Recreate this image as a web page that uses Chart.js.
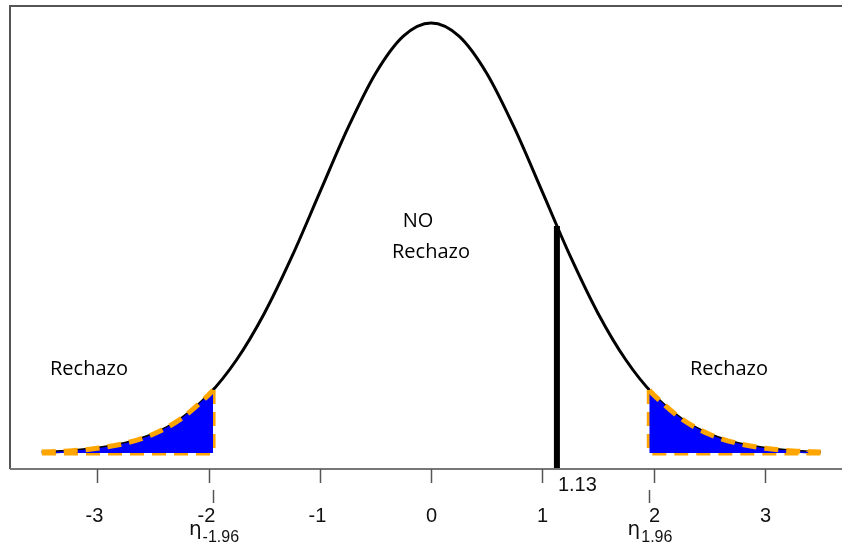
<!DOCTYPE html>
<html>
<head>
<meta charset="utf-8">
<script src="https://cdn.jsdelivr.net/npm/chart.js@4"></script>
<style>
  html, body { margin: 0; padding: 0; background: #fff; }
  #wrap { width: 842px; height: 544px; }
</style>
</head>
<body>
<div id="wrap"><canvas id="chart" width="842" height="544"></canvas></div>
<script>
// density curve
const curveX = [-3.5, -3.25, -3, -2.75, -2.5, -2.25, -2, -1.75, -1.5, -1.25, -1, -0.75, -0.5, -0.25, 0,
  0.25, 0.5, 0.75, 1, 1.25, 1.5, 1.75, 2, 2.25, 2.5, 2.75, 3, 3.25, 3.5];
const curveY = [0.0009, 0.0020, 0.0044, 0.0091, 0.0175, 0.0317, 0.0540, 0.0863, 0.1295, 0.1826, 0.2420, 0.3011, 0.3521, 0.3867, 0.3989,
  0.3867, 0.3521, 0.3011, 0.2420, 0.1826, 0.1295, 0.0863, 0.0540, 0.0317, 0.0175, 0.0091, 0.0044, 0.0020, 0.0009];

// rejection tails
const leftTailX = [-3.5, -3.25, -3, -2.75, -2.5, -2.25, -2, -1.96];
const leftTailY = [0.0009, 0.0020, 0.0044, 0.0091, 0.0175, 0.0317, 0.0540, 0.0584];
const rightTailX = [1.96, 2, 2.25, 2.5, 2.75, 3, 3.25, 3.5];
const rightTailY = [0.0584, 0.0540, 0.0317, 0.0175, 0.0091, 0.0044, 0.0020, 0.0009];

const critical = 1.96;
const critHeight = 0.0584;
const statValue = 1.13;
const statHeight = 0.2107;

const tickValues = [-3, -2, -1, 0, 1, 2, 3];
const tickLabels = ["-3", "-2", "-1", "0", "1", "2", "3"];
const etaSubs = ["-1.96", "1.96"];

const xMin = -3.785, xMax = 3.692;
const yMin = -0.0148, yMax = 0.4147;

const pts = (xs, ys) => xs.map((x, i) => ({ x: x, y: ys[i] }));

const orange = "#ffa500";
const blue = "#0000ff";

const overlay = {
  id: "overlay",
  afterDraw(chart) {
    const ctx = chart.ctx;
    const xs = chart.scales.x;
    const a = chart.chartArea;
    ctx.save();
    // frame
    ctx.strokeStyle = "#555";
    ctx.lineWidth = 2;
    ctx.beginPath();
    ctx.moveTo(a.right, a.top);
    ctx.lineTo(a.left, a.top);
    ctx.lineTo(a.left, a.bottom);
    ctx.stroke();
    ctx.strokeStyle = "#777";
    ctx.beginPath();
    ctx.moveTo(a.left, a.bottom);
    ctx.lineTo(a.right, a.bottom);
    ctx.stroke();

    // ticks
    ctx.lineWidth = 1.5;
    ctx.strokeStyle = "#555";
    ctx.fillStyle = "#111";
    ctx.font = "20px 'Liberation Sans', Arial, sans-serif";
    ctx.textAlign = "center";
    ctx.textBaseline = "alphabetic";
    tickValues.forEach((v, i) => {
      const px = Math.round(xs.getPixelForValue(v)) + 0.5;
      ctx.beginPath();
      ctx.moveTo(px, a.bottom);
      ctx.lineTo(px, a.bottom + 14);
      ctx.stroke();
      ctx.fillText(tickLabels[i], px - (v < 0 ? 3 : 0), 522);
    });

    // eta ticks and labels
    [-critical, critical].forEach((v, i) => {
      const px = Math.round(xs.getPixelForValue(v)) + 0.5;
      ctx.beginPath();
      ctx.moveTo(px, a.bottom + 21);
      ctx.lineTo(px, a.bottom + 34);
      ctx.stroke();
      ctx.font = "20px 'DejaVu Sans', sans-serif";
      const w1 = ctx.measureText("η").width;
      ctx.font = "16px 'Liberation Sans', Arial, sans-serif";
      const w2 = ctx.measureText(etaSubs[i]).width;
      const x0 = px - (w1 + w2) / 2;
      ctx.textAlign = "left";
      ctx.font = "20px 'DejaVu Sans', sans-serif";
      ctx.fillText("η", x0, 535);
      ctx.font = "16px 'Liberation Sans', Arial, sans-serif";
      ctx.fillText(etaSubs[i], x0 + w1 + 1, 542);
      ctx.textAlign = "center";
    });

    // statistic label
    ctx.textAlign = "left";
    ctx.font = "20px 'Liberation Sans', Arial, sans-serif";
    ctx.fillText(String(statValue), xs.getPixelForValue(statValue) + 1, 491);

    // region labels
    ctx.font = "20px 'Open Sans', sans-serif";
    ctx.textAlign = "center";
    ctx.fillStyle = "#000";
    ctx.fillText("NO", 418, 227);
    ctx.fillText("Rechazo", 431, 258);
    ctx.fillText("Rechazo", 89, 375);
    ctx.fillText("Rechazo", 729, 375);
    ctx.restore();
  }
};

const tailStyle = {
  showLine: true,
  pointRadius: 0,
  borderColor: orange,
  borderWidth: 5,
  borderDash: [14, 8],
  backgroundColor: blue,
  fill: "origin",
  cubicInterpolationMode: "monotone",
  order: 1
};
const edgeStyle = {
  showLine: true,
  pointRadius: 0,
  borderColor: orange,
  borderWidth: 5,
  borderDash: [14, 8],
  fill: false,
  tension: 0,
  order: 1
};

new Chart(document.getElementById("chart"), {
  type: "scatter",
  data: {
    datasets: [
      {
        data: [{ x: statValue, y: statHeight }, { x: statValue, y: yMin }],
        showLine: true, pointRadius: 0, borderColor: "#000", borderWidth: 6,
        borderCapStyle: "butt", order: 0
      },
      Object.assign({ data: pts(leftTailX, leftTailY) }, tailStyle),
      Object.assign({ data: [{ x: -critical, y: critHeight }, { x: -critical, y: 0 }, { x: leftTailX[0], y: 0 }] }, edgeStyle),
      Object.assign({ data: pts(rightTailX, rightTailY) }, tailStyle),
      Object.assign({ data: [{ x: critical, y: critHeight }, { x: critical, y: 0 }, { x: rightTailX[rightTailX.length - 1], y: 0 }] }, edgeStyle),
      {
        data: pts(curveX, curveY),
        showLine: true, pointRadius: 0, borderColor: "#000", borderWidth: 3,
        cubicInterpolationMode: "monotone", fill: false, order: 2
      }
    ]
  },
  options: {
    responsive: false,
    animation: false,
    layout: { padding: { left: 10, right: 0, top: 6, bottom: 75 } },
    plugins: { legend: { display: false }, tooltip: { enabled: false } },
    scales: {
      x: { type: "linear", min: xMin, max: xMax, display: false },
      y: { type: "linear", min: yMin, max: yMax, display: false }
    }
  },
  plugins: [overlay]
});
</script>
</body>
</html>
